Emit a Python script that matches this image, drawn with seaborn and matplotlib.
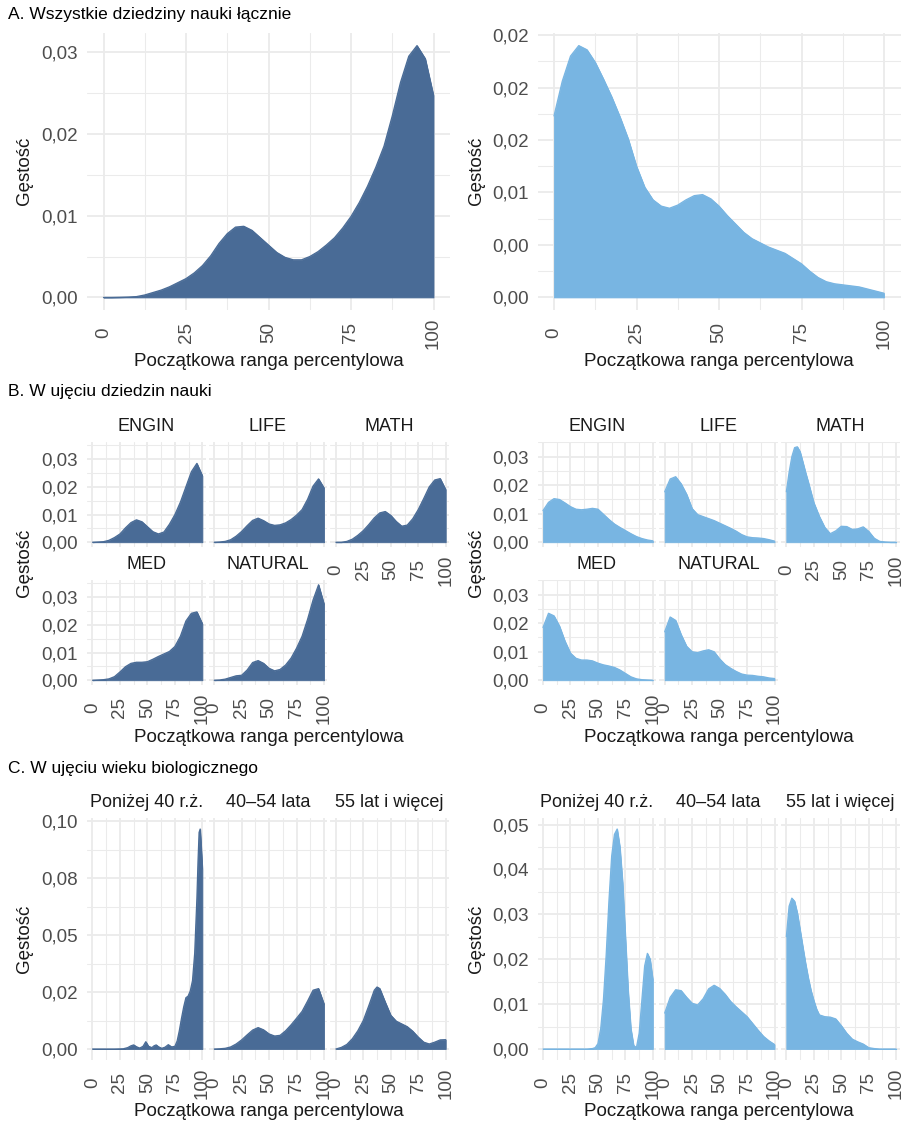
import matplotlib
matplotlib.use("Agg")
import matplotlib.pyplot as plt
import pandas as pd
import seaborn as sns

sns.set_theme(style="white")
plt.rcParams["font.family"] = ["Liberation Sans", "DejaVu Sans"]

# ---------------------------------------------------------------- data
GRID_25 = [0, 2.5, 5, 7.5, 10, 12.5, 15, 17.5, 20, 22.5, 25, 27.5, 30, 32.5, 35,
           37.5, 40, 42.5, 45, 47.5, 50, 52.5, 55, 57.5, 60, 62.5, 65, 67.5, 70,
           72.5, 75, 77.5, 80, 82.5, 85, 87.5, 90, 92.5, 95, 97.5, 100]
GRID_5 = [0, 5, 10, 15, 20, 25, 30, 35, 40, 45, 50, 55, 60, 65, 70, 75, 80, 85,
          90, 95, 100]

# A. all fields together
ALL_DARK = [0.0, 0.0, 0.00002, 0.00005, 0.0001, 0.0003, 0.0006, 0.0009, 0.0013,
            0.0018, 0.0023, 0.0030, 0.0039, 0.0051, 0.0066, 0.0078, 0.0086,
            0.0087, 0.0082, 0.0073, 0.0064, 0.0055, 0.0049, 0.0046, 0.0046,
            0.0050, 0.0056, 0.0064, 0.0073, 0.0085, 0.0099, 0.0116, 0.0136,
            0.0159, 0.0185, 0.0222, 0.0263, 0.0295, 0.0308, 0.0292, 0.0247]
ALL_LIGHT = [0.0173, 0.0206, 0.0230, 0.0240, 0.0236, 0.0224, 0.0208, 0.0191,
             0.0172, 0.0151, 0.0125, 0.0105, 0.0093, 0.0087, 0.0085, 0.0088,
             0.0093, 0.0097, 0.0098, 0.0094, 0.0087, 0.0078, 0.0070, 0.0062,
             0.0056, 0.0052, 0.0048, 0.0045, 0.0042, 0.0037, 0.0032, 0.0025,
             0.0019, 0.0015, 0.0013, 0.0012, 0.0011, 0.0010, 0.0008, 0.0006,
             0.0004]

# B. by field of science
FIELDS = ["ENGIN", "LIFE", "MATH", "MED", "NATURAL"]
ENGIN_DARK = [0, 0.0001, 0.0002, 0.0007, 0.0017, 0.0030, 0.0052, 0.0071, 0.0081,
              0.0074, 0.0056, 0.0038, 0.0030, 0.0037, 0.0065, 0.0100, 0.0145,
              0.0200, 0.0255, 0.0285, 0.0240]
LIFE_DARK = [0, 0.0001, 0.0003, 0.0009, 0.0022, 0.0039, 0.0060, 0.0079, 0.0087,
             0.0078, 0.0066, 0.0061, 0.0063, 0.0070, 0.0082, 0.0098, 0.0118,
             0.0155, 0.0203, 0.0229, 0.0196]
MATH_DARK = [0, 0, 0.0003, 0.0011, 0.0025, 0.0042, 0.0064, 0.0088, 0.0106, 0.0111,
             0.0097, 0.0075, 0.0058, 0.0062, 0.0085, 0.0118, 0.0158, 0.0200,
             0.0225, 0.0230, 0.0190]
MED_DARK = [0, 0.0001, 0.0002, 0.0005, 0.0013, 0.0030, 0.0049, 0.0061, 0.0065,
            0.0065, 0.0067, 0.0076, 0.0086, 0.0095, 0.0104, 0.0122, 0.0159,
            0.0214, 0.0242, 0.0247, 0.0204]
NATURAL_DARK = [0, 0.0001, 0.0004, 0.0010, 0.0016, 0.0018, 0.0037, 0.0064, 0.0071,
                0.0061, 0.0043, 0.0034, 0.0039, 0.0055, 0.0080, 0.0116, 0.0159,
                0.0220, 0.0290, 0.0345, 0.0275]

ENGIN_LIGHT = [0.0111, 0.0140, 0.0153, 0.0150, 0.0138, 0.0125, 0.0116, 0.0114,
               0.0116, 0.0119, 0.0116, 0.0098, 0.0080, 0.0064, 0.0052, 0.0041,
               0.0030, 0.0020, 0.0013, 0.0008, 0.0005]
LIFE_LIGHT = [0.0177, 0.0222, 0.0230, 0.0205, 0.0168, 0.0118, 0.0097, 0.0090,
              0.0083, 0.0076, 0.0067, 0.0058, 0.0049, 0.0039, 0.0027, 0.0019,
              0.0016, 0.0015, 0.0013, 0.0009, 0.0004]
MATH_LIGHT_X = [0, 2.5, 5, 7.5, 10, 12.5, 15, 17.5, 20, 25, 30, 35, 40, 45, 50, 55,
                60, 65, 70, 75, 80, 85, 90, 95, 100]
MATH_LIGHT = [0.0177, 0.0245, 0.0300, 0.0332, 0.0335, 0.0318, 0.0282, 0.0245,
              0.0211, 0.0139, 0.0091, 0.0052, 0.0030, 0.0040, 0.0056, 0.0055,
              0.0045, 0.0047, 0.0054, 0.0038, 0.0014, 0.0003, 0.0001, 0, 0]
MED_LIGHT = [0.0185, 0.0235, 0.0226, 0.0190, 0.0137, 0.0095, 0.0077, 0.0071,
             0.0071, 0.0068, 0.0060, 0.0054, 0.0050, 0.0045, 0.0036, 0.0024,
             0.0012, 0.0005, 0.0002, 0.0001, 0.0]
NATURAL_LIGHT = [0.0170, 0.0222, 0.0210, 0.0160, 0.0119, 0.0100, 0.0097, 0.0103,
                 0.0107, 0.0100, 0.0075, 0.0055, 0.0042, 0.0031, 0.0022, 0.0018,
                 0.0017, 0.0014, 0.0012, 0.0008, 0.0006]

# C. by biological age
AGES = ["Poniżej 40 r.ż.", "40–54 lata", "55 lat i więcej"]
YOUNG_DARK_X = [0, 10, 20, 28, 32, 35, 37.5, 40, 43, 46, 48.5, 51, 54, 56, 58, 60,
                63, 66, 69, 72, 75, 77, 79, 81, 83, 85, 87, 89, 91, 93, 95, 96,
                97, 98, 99, 100]
YOUNG_DARK = [0, 0, 0, 0.0001, 0.0006, 0.0014, 0.0018, 0.0010, 0.0004, 0.0012,
              0.0032, 0.0012, 0.0006, 0.0014, 0.0018, 0.0010, 0.0003, 0.0008,
              0.0019, 0.0009, 0.0012, 0.0035, 0.0080, 0.0135, 0.0185, 0.0225,
              0.0232, 0.0255, 0.0300, 0.0420, 0.0660, 0.0820, 0.0950, 0.0965,
              0.0880, 0.0790]
MID_DARK = [0, 0.0001, 0.0003, 0.0009, 0.0022, 0.0040, 0.0062, 0.0083, 0.0094,
            0.0084, 0.0066, 0.0057, 0.0060, 0.0080, 0.0106, 0.0135, 0.0165,
            0.0210, 0.0258, 0.0265, 0.0197]
OLD_DARK_X = [0, 5, 10, 15, 20, 25, 30, 35, 37.5, 40, 45, 50, 55, 60, 65, 70, 75,
              80, 85, 90, 95, 100]
OLD_DARK = [0, 0.0007, 0.0020, 0.0045, 0.0080, 0.0125, 0.0190, 0.0258, 0.0272,
            0.0265, 0.0205, 0.0148, 0.0122, 0.0110, 0.0098, 0.0078, 0.0052,
            0.0030, 0.0022, 0.0030, 0.0040, 0.0041]

YOUNG_LIGHT_X = [0, 10, 20, 30, 40, 45, 47.5, 50, 52.5, 55, 57.5, 60, 62.5, 65,
                 67.5, 70, 72.5, 75, 77.5, 80, 82.5, 85, 87.5, 90, 92.5, 95, 97.5,
                 100]
YOUNG_LIGHT = [0, 0, 0, 0, 0, 0.0001, 0.0003, 0.0012, 0.0045, 0.0110, 0.0210,
               0.0330, 0.0430, 0.0478, 0.0490, 0.0450, 0.0370, 0.0250, 0.0130,
               0.0045, 0.0008, 0.0003, 0.0035, 0.0110, 0.0185, 0.0213, 0.0200,
               0.0154]
MID_LIGHT = [0.0080, 0.0115, 0.0132, 0.0130, 0.0115, 0.0102, 0.0098, 0.0112,
             0.0134, 0.0142, 0.0135, 0.0122, 0.0106, 0.0094, 0.0083, 0.0072,
             0.0057, 0.0042, 0.0028, 0.0018, 0.0010]
OLD_LIGHT_X = [0, 2.5, 5, 7.5, 10, 12.5, 15, 17.5, 20, 22.5, 25, 27.5, 30, 35, 40,
               45, 50, 55, 60, 65, 70, 75, 80, 85, 90, 95, 100]
OLD_LIGHT = [0.0250, 0.0318, 0.0336, 0.0329, 0.0303, 0.0266, 0.0228, 0.0191,
             0.0158, 0.0130, 0.0108, 0.0089, 0.0076, 0.0072, 0.0071, 0.0067,
             0.0052, 0.0035, 0.0022, 0.0016, 0.0011, 0.0003, 0.0001, 0, 0, 0, 0]

# axis ticks
X_TICKS = [0, 25, 50, 75, 100]
X_TICK_LABELS = ["0", "25", "50", "75", "100"]
X_MINOR = [12.5, 37.5, 62.5, 87.5]

Y_TICKS_3 = [0, 0.01, 0.02, 0.03]
Y_LABELS_3 = ["0,00", "0,01", "0,02", "0,03"]
Y_MINOR_3 = [0.005, 0.015, 0.025, 0.035]
Y_TICKS_A_LIGHT = [0, 0.005, 0.01, 0.015, 0.02, 0.025]
Y_LABELS_A_LIGHT = ["0,00", "0,00", "0,01", "0,02", "0,02", "0,02"]
Y_MINOR_A_LIGHT = [0.0025, 0.0075, 0.0125, 0.0175, 0.0225]
Y_TICKS_C_DARK = [0, 0.025, 0.05, 0.075, 0.10]
Y_LABELS_C_DARK = ["0,00", "0,02", "0,05", "0,08", "0,10"]
Y_MINOR_C_DARK = [0.0125, 0.0375, 0.0625, 0.0875]
Y_TICKS_C_LIGHT = [0, 0.01, 0.02, 0.03, 0.04, 0.05]
Y_LABELS_C_LIGHT = ["0,00", "0,01", "0,02", "0,03", "0,04", "0,05"]
Y_MINOR_C_LIGHT = [0.005, 0.015, 0.025, 0.035, 0.045]

DARK = "#496B96"
LIGHT = "#78B5E2"
GRID = "#EBEBEB"
TICK_COLOR = "#4D4D4D"
TEXT_COLOR = "#1A1A1A"
X_TITLE = "Początkowa ranga percentylowa"
Y_TITLE = "Gęstość"

# ---------------------------------------------------------------- layout
W, H = 909, 1126
fig = plt.figure(figsize=(W / 100, H / 100), dpi=100)
fig.patch.set_facecolor("white")


def px_axes(left, top, width, height):
    return fig.add_axes([left / W, 1 - (top + height) / H, width / W, height / H])


def fig_text(x, y, s, **kw):
    fig.text(x / W, 1 - y / H, s, **kw)


def ylimits(series):
    top = max(max(s) for s in series)
    return (-0.05 * top, top * 1.05)


def draw_panel(ax, xs, ys, color, ylim, yticks, ylabels, yminor, xlim=(-5, 105),
               show_x=True, show_y=True, strip=None):
    df = pd.DataFrame({"x": xs, "y": ys})
    ax.fill_between(df["x"], 0, df["y"], facecolor=color, edgecolor=color,
                    lw=0.6, zorder=2)
    sns.lineplot(data=df, x="x", y="y", ax=ax, color=color, lw=0.9, zorder=3)
    ax.set_xlim(*xlim)
    ax.set_ylim(*ylim)
    ax.set_facecolor("white")
    ax.set_xticks(X_TICKS)
    ax.set_xticks(X_MINOR, minor=True)
    ax.set_yticks(yticks)
    ax.set_yticks(yminor, minor=True)
    ax.set_axisbelow(True)
    ax.grid(which="major", color=GRID, lw=1.35)
    ax.grid(which="minor", color=GRID, lw=0.75)
    for s in ax.spines.values():
        s.set_visible(False)
    ax.tick_params(which="both", length=0)
    ax.set_xlabel("")
    ax.set_ylabel("")
    if show_x:
        ax.set_xticklabels(X_TICK_LABELS, rotation=90, va="center", ha="center")
        ax.tick_params(axis="x", pad=16.5, labelsize=13.5, labelcolor=TICK_COLOR)
    else:
        ax.set_xticklabels([])
    if show_y:
        ax.set_yticklabels(ylabels)
        ax.tick_params(axis="y", pad=6.5, labelsize=13.5, labelcolor=TICK_COLOR)
    else:
        ax.set_yticklabels([])
    if strip:
        h_px = ax.get_position().height * H
        ax.text(0.5, 1 + 15.5 / h_px, strip, transform=ax.transAxes,
                ha="center", va="center", fontsize=13, color=TEXT_COLOR)


GROUP_LEFT = [87, 537.5]
GROUP_W = 363
FACET_GROUP_W = 362
GAP = 3
FACET_W = (FACET_GROUP_W - 2 * GAP) / 3
FACET_XLIM = (-5, 103)

# section titles
fig_text(8, 15, "A. Wszystkie dziedziny nauki łącznie", fontsize=12.5,
         ha="left", va="center", color="black")
fig_text(8, 392, "B. W ujęciu dziedzin nauki", fontsize=12.5,
         ha="left", va="center", color="black")
fig_text(8, 768, "C. W ujęciu wieku biologicznego", fontsize=12.5,
         ha="left", va="center", color="black")

# ---- A
ax = px_axes(GROUP_LEFT[0], 33, GROUP_W, 277)
draw_panel(ax, GRID_25, ALL_DARK, DARK, ylimits([ALL_DARK]),
           Y_TICKS_3, Y_LABELS_3, Y_MINOR_3[:3])
ax = px_axes(GROUP_LEFT[1], 33, GROUP_W, 277)
draw_panel(ax, GRID_25, ALL_LIGHT, LIGHT, ylimits([ALL_LIGHT]),
           Y_TICKS_A_LIGHT, Y_LABELS_A_LIGHT, Y_MINOR_A_LIGHT)

# ---- B
b_dark = [(GRID_5, ENGIN_DARK), (GRID_5, LIFE_DARK), (GRID_5, MATH_DARK),
          (GRID_5, MED_DARK), (GRID_5, NATURAL_DARK)]
b_light = [(GRID_5, ENGIN_LIGHT), (GRID_5, LIFE_LIGHT), (MATH_LIGHT_X, MATH_LIGHT),
           (GRID_5, MED_LIGHT), (GRID_5, NATURAL_LIGHT)]
row_tops = [442, 580]
for g, (panels, color) in enumerate([(b_dark, DARK), (b_light, LIGHT)]):
    lim = ylimits([p[1] for p in panels])
    for i, (name, (xs, ys)) in enumerate(zip(FIELDS, panels)):
        r, c = divmod(i, 3)
        ax = px_axes(GROUP_LEFT[g] + c * (FACET_W + GAP), row_tops[r], FACET_W, 105)
        draw_panel(ax, xs, ys, color, lim, Y_TICKS_3, Y_LABELS_3, Y_MINOR_3,
                   xlim=FACET_XLIM, show_x=(r == 1 or c == 2), show_y=(c == 0),
                   strip=name)

# ---- C
c_dark = [(YOUNG_DARK_X, YOUNG_DARK), (GRID_5, MID_DARK), (OLD_DARK_X, OLD_DARK)]
c_light = [(YOUNG_LIGHT_X, YOUNG_LIGHT), (GRID_5, MID_LIGHT), (OLD_LIGHT_X, OLD_LIGHT)]
c_ticks = [(Y_TICKS_C_DARK, Y_LABELS_C_DARK, Y_MINOR_C_DARK),
           (Y_TICKS_C_LIGHT, Y_LABELS_C_LIGHT, Y_MINOR_C_LIGHT)]
for g, (panels, color) in enumerate([(c_dark, DARK), (c_light, LIGHT)]):
    lim = ylimits([p[1] for p in panels])
    yt, yl, ym = c_ticks[g]
    for c, (name, (xs, ys)) in enumerate(zip(AGES, panels)):
        ax = px_axes(GROUP_LEFT[g] + c * (FACET_W + GAP), 818, FACET_W, 242)
        draw_panel(ax, xs, ys, color, lim, yt, yl, ym, xlim=FACET_XLIM,
                   show_x=True, show_y=(c == 0), strip=name)

# axis titles
for g in range(2):
    cx = GROUP_LEFT[g] + GROUP_W / 2
    ty = 25 if g == 0 else 476
    for xy, yy in [(362, 171), (738, 563), (1112, 939)]:
        fig_text(cx, xy, X_TITLE, fontsize=13.5, ha="center", va="center",
                 color=TEXT_COLOR)
        fig_text(ty, yy, Y_TITLE, fontsize=13.5, ha="center", va="center",
                 rotation=90, color=TEXT_COLOR)

fig.savefig("out.png", dpi=100, facecolor="white")
